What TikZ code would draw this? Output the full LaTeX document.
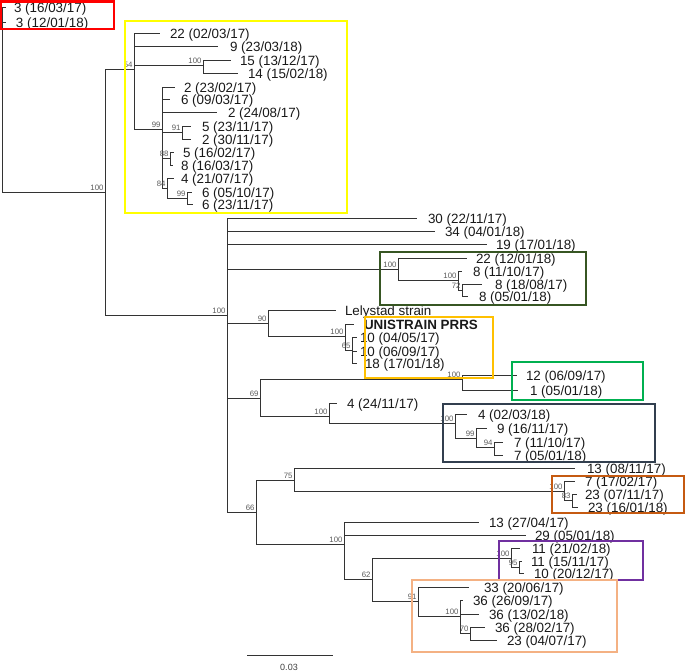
\documentclass[tikz,border=0pt]{standalone}
\usepackage{fontspec}
\setmainfont{Liberation Sans}
\definecolor{bxred}{HTML}{FF0000}
\definecolor{bxyellow}{HTML}{FFFF00}
\definecolor{bxdkgreen}{HTML}{375623}
\definecolor{bxgold}{HTML}{FFC000}
\definecolor{bxgreen}{HTML}{00B050}
\definecolor{bxnavy}{HTML}{323F4F}
\definecolor{bxorange}{HTML}{C55A11}
\definecolor{bxpurple}{HTML}{7030A0}
\definecolor{bxpeach}{HTML}{F4B183}
\newcommand\lf[6][]{\node[leaf,outer xsep=#5pt,#1] (#2) at (#3,#4) {#6};}
\newcommand\bsl[3]{\node[bs] (b#1) at ([xshift=-1pt,yshift=1pt]#1) {#2};}
\begin{document}
\begin{tikzpicture}[x=1pt,y=-1pt,
  br/.style={draw=black!80,line width=0.8pt},
  leaf/.style={anchor=west,inner sep=0pt,outer ysep=0pt,text height=11.6pt,text depth=0pt,font=\fontsize{13.4}{14}\selectfont,text=black!90},
  bs/.style={anchor=south east,inner sep=0.3pt,font=\fontsize{7.8}{8}\selectfont,text=black!65},
  cbox/.style={draw=#1,line width=2.6pt}]
\useasboundingbox (0,0) rectangle (685,671);

% internal nodes
\coordinate (R) at (2,192);
\coordinate (A) at (105,192);
\coordinate (Y) at (134,69);
\coordinate (Y1) at (203,65);
\coordinate (Y2) at (162,129);
\coordinate (Y3) at (182,132);
\coordinate (Y4) at (170,158);
\coordinate (Y5) at (167,188);
\coordinate (Y6) at (187,198);
\coordinate (M) at (227,315);
\coordinate (G) at (398,269);
\coordinate (G1) at (458,280);
\coordinate (G2) at (462,290);
\coordinate (L) at (268,323);
\coordinate (L1) at (345,336);
\coordinate (L2) at (352,350);
\coordinate (N) at (260,398);
\coordinate (Gr) at (462,379);
\coordinate (D) at (329,416);
\coordinate (D1) at (455,423);
\coordinate (D2) at (476,438);
\coordinate (D3) at (494,447);
\coordinate (S) at (256,512);
\coordinate (T) at (294,480);
\coordinate (O) at (564,491);
\coordinate (O1) at (572,500);
\coordinate (U) at (344,544);
\coordinate (V) at (372,579);
\coordinate (P) at (511,558);
\coordinate (P1) at (519,567);
\coordinate (W) at (418,601);
\coordinate (W1) at (460,616);
\coordinate (W2) at (470,633);

% leaves
\lf{r1}{6}{7}{8}{3 (16/03/17)}
\lf{r2}{6}{22}{10}{3 (12/01/18)}
\lf{y1}{160}{33}{10}{22 (02/03/17)}
\lf{y2}{218}{46}{12}{9 (23/03/18)}
\lf{y3}{231}{60}{9}{15 (13/12/17)}
\lf{y4}{238}{73}{10}{14 (15/02/18)}
\lf{y5}{175}{87}{9}{2 (23/02/17)}
\lf{y6}{170}{99}{11}{6 (09/03/17)}
\lf{y7}{217}{112}{11}{2 (24/08/17)}
\lf{y8}{191}{126}{11}{5 (23/11/17)}
\lf{y9}{191}{139}{11}{2 (30/11/17)}
\lf{y10}{174}{152}{9}{5 (16/02/17)}
\lf{y11}{173}{165}{8}{8 (16/03/17)}
\lf{y12}{174}{178}{7}{4 (21/07/17)}
\lf{y13}{192}{192}{10}{6 (05/10/17)}
\lf{y14}{193}{204}{9}{6 (23/11/17)}
\lf{m1}{417}{218}{11}{30 (22/11/17)}
\lf{m2}{435}{231}{10}{34 (04/01/18)}
\lf{m3}{487}{244}{9}{19 (17/01/18)}
\lf{g1}{467}{258}{9}{22 (12/01/18)}
\lf{g2}{462}{271}{11}{8 (11/10/17)}
\lf{g3}{482}{284}{13}{8 (18/08/17)}
\lf{g4}{468}{296}{11}{8 (05/01/18)}
\lf{lel}{336}{310}{9}{Lelystad strain}
\lf[font=\fontsize{13.4}{14}\selectfont\bfseries]{uni}{354}{324}{10}{UNISTRAIN PRRS}
\lf{ua}{357}{337}{3}{10 (04/05/17)}
\lf{ub}{357}{351}{3}{10 (06/09/17)}
\lf{uc}{357}{363}{8}{18 (17/01/18)}
\lf{e1}{517}{375}{9}{12 (06/09/17)}
\lf{e2}{518}{390}{12}{1 (05/01/18)}
\lf{d1}{337}{403}{10}{4 (24/11/17)}
\lf{d2}{467}{414}{11}{4 (02/03/18)}
\lf{d3}{487}{428}{10}{9 (16/11/17)}
\lf{d4}{503}{442}{11}{7 (11/10/17)}
\lf{d5}{503}{455}{11}{7 (05/01/18)}
\lf{t1}{575}{468}{12}{13 (08/11/17)}
\lf{o1}{575}{481}{10}{7 (17/02/17)}
\lf{o2}{577}{494}{8}{23 (07/11/17)}
\lf{o3}{578}{507}{10}{23 (16/01/18)}
\lf{u1}{479}{522}{10}{13 (27/04/17)}
\lf{u2}{526}{535}{9}{29 (05/01/18)}
\lf{p1}{520}{548}{12}{11 (21/02/18)}
\lf{p2}{522}{561}{9}{11 (15/11/17)}
\lf{p3}{524}{573}{10}{10 (20/12/17)}
\lf{w1}{469}{587}{15}{33 (20/06/17)}
\lf{w2}{463}{600}{10}{36 (26/09/17)}
\lf{w3}{479}{614}{10}{36 (13/02/18)}
\lf{w4}{485}{627}{10}{36 (28/02/17)}
\lf{w5}{497}{640}{10}{23 (04/07/17)}

% branches
\path[br] (R) |- (r1) (R) |- (r2) (R) -- (A);
\path[br] (A) |- (Y) (A) |- (M);
\path[br] (Y) |- (y1) (Y) |- (y2) (Y) |- (Y1) (Y) |- (Y2);
\path[br] (Y1) |- (y3) (Y1) |- (y4);
\path[br] (Y2) |- (y5) (Y2) |- (y6) (Y2) |- (y7) (Y2) |- (Y3) (Y2) |- (Y4) (Y2) |- (Y5);
\path[br] (Y3) |- (y8) (Y3) |- (y9);
\path[br] (Y4) |- (y10) (Y4) |- (y11);
\path[br] (Y5) |- (y12) (Y5) |- (Y6);
\path[br] (Y6) |- (y13) (Y6) |- (y14);
\path[br] (M) |- (m1) (M) |- (m2) (M) |- (m3) (M) |- (G) (M) |- (L) (M) |- (N) (M) |- (S);
\path[br] (G) |- (g1) (G) |- (G1);
\path[br] (G1) |- (g2) (G1) |- (G2);
\path[br] (G2) |- (g3) (G2) |- (g4);
\path[br] (L) |- (lel) (L) |- (L1);
\path[br] (L1) |- (uni) (L1) |- (L2);
\path[br] (L2) |- (ua) (L2) |- (ub) (L2) |- (uc);
\path[br] (N) |- (Gr) (N) |- (D);
\path[br] (Gr) |- (e1) (Gr) |- (e2);
\path[br] (D) |- (d1) (D) |- (D1);
\path[br] (D1) |- (d2) (D1) |- (D2);
\path[br] (D2) |- (d3) (D2) |- (D3);
\path[br] (D3) |- (d4) (D3) |- (d5);
\path[br] (S) |- (T) (S) |- (U);
\path[br] (T) |- (t1) (T) |- (O);
\path[br] (O) |- (o1) (O) |- (O1);
\path[br] (O1) |- (o2) (O1) |- (o3);
\path[br] (U) |- (u1) (U) |- (u2) (U) |- (V);
\path[br] (V) |- (P) (V) |- (W);
\path[br] (P) |- (p1) (P) |- (P1);
\path[br] (P1) |- (p2) (P1) |- (p3);
\path[br] (W) |- (w1) (W) |- (W1);
\path[br] (W1) |- (w2) (W1) |- (w3) (W1) |- (W2);
\path[br] (W2) |- (w4) (W2) |- (w5);

% bootstrap labels
\bsl{A}{100}{}
\bsl{Y}{54}{}
\bsl{Y1}{100}{}
\bsl{Y2}{99}{}
\bsl{Y3}{91}{}
\bsl{Y4}{88}{}
\bsl{Y5}{84}{}
\bsl{Y6}{99}{}
\bsl{M}{100}{}
\bsl{G}{100}{}
\bsl{G1}{100}{}
\bsl{G2}{72}{}
\bsl{L}{90}{}
\bsl{L1}{100}{}
\bsl{L2}{65}{}
\bsl{N}{69}{}
\bsl{Gr}{100}{}
\bsl{D}{100}{}
\bsl{D1}{100}{}
\bsl{D2}{99}{}
\bsl{D3}{94}{}
\bsl{S}{66}{}
\bsl{T}{75}{}
\bsl{O}{100}{}
\bsl{O1}{83}{}
\bsl{U}{100}{}
\bsl{V}{62}{}
\bsl{P}{100}{}
\bsl{P1}{95}{}
\bsl{W}{91}{}
\bsl{W1}{100}{}
\bsl{W2}{70}{}

% coloured boxes
\draw[cbox=bxred] (0.5,1.3) rectangle (114,29);
\draw[cbox=bxyellow] (125,21) rectangle (347,213);
\draw[cbox=bxdkgreen] (380,252) rectangle (586,305);
\draw[cbox=bxgold] (365,317) rectangle (493,378);
\draw[cbox=bxgreen] (512,362) rectangle (643,400);
\draw[cbox=bxnavy] (443,404) rectangle (655,462);
\draw[cbox=bxorange] (552,476) rectangle (684,513);
\draw[cbox=bxpurple] (499,541) rectangle (643,580);
\draw[cbox=bxpeach] (412,580) rectangle (617,652);

% scale bar
\coordinate (sb1) at (247,655);
\coordinate (sb2) at (333,655);
\draw[br] (sb1) -- (sb2);
\node[font=\fontsize{9}{10}\selectfont,text=black!75] (sbl) at (289,667) {0.03};
\end{tikzpicture}
\end{document}
